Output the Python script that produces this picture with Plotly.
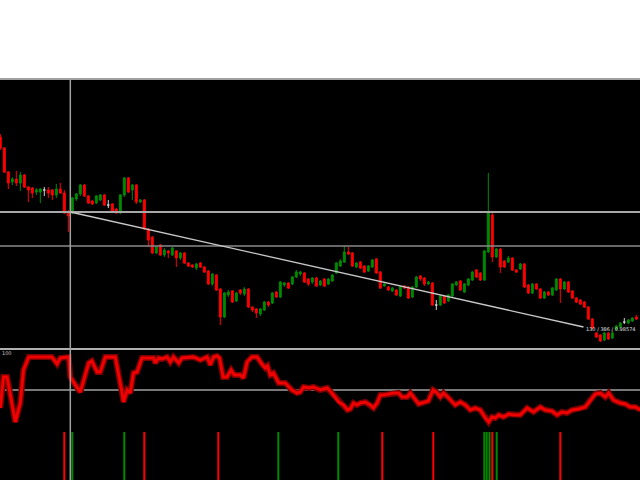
import plotly.graph_objects as go

# ---- price data (one candle per bar index) ----
opens = [1.0163, 1.0152, 1.0128, 1.0118, 1.0121, 1.0117, 1.0125, 1.0113, 1.0112, 1.0108,
         1.0108, 1.0110, 1.0110, 1.0110, 1.0105, 1.0111, 1.0107, 1.0087, 1.0087, 1.0101,
         1.0106, 1.0115, 1.0104, 1.0099, 1.0097, 1.0100, 1.0105, 1.0095, 1.0096, 1.0091,
         1.0087, 1.0105, 1.0122, 1.0110, 1.0115, 1.0098, 1.0100, 1.0071, 1.0063, 1.0047,
         1.0055, 1.0045, 1.0049, 1.0045, 1.0049, 1.0042, 1.0047, 1.0037, 1.0035, 1.0032,
         1.0037, 1.0033, 1.0029, 1.0016, 1.0025, 1.0011, 0.9983, 1.0005, 1.0009, 0.9999,
         1.0010, 1.0006, 1.0011, 0.9993, 0.9991, 0.9986, 0.9990, 0.9998, 0.9997, 1.0008,
         1.0003, 1.0015, 1.0017, 1.0016, 1.0023, 1.0026, 1.0027, 1.0021, 1.0018, 1.0022,
         1.0015, 1.0021, 1.0016, 1.0019, 1.0027, 1.0034, 1.0038, 1.0048, 1.0047, 1.0033,
         1.0038, 1.0034, 1.0029, 1.0033, 1.0041, 1.0028, 1.0014, 1.0013, 1.0009, 1.0010,
         1.0004, 1.0014, 1.0013, 1.0003, 1.0013, 1.0024, 1.0022, 1.0016, 1.0017, 0.9995,
         0.9995, 1.0004, 0.9999, 1.0004, 1.0015, 1.0019, 1.0008, 1.0015, 1.0020, 1.0030,
         1.0027, 1.0020, 1.0048, 1.0085, 1.0043, 1.0051, 1.0039, 1.0038, 1.0042, 1.0030,
         1.0031, 1.0036, 1.0015, 1.0007, 1.0016, 1.0011, 1.0002, 1.0008, 1.0005, 1.0010,
         1.0021, 1.0011, 1.0018, 1.0009, 1.0002, 1.0000, 0.9998, 0.9993, 0.9981, 0.9967,
         0.9965, 0.9960, 0.9967, 0.9962, 0.9971, 0.9973, 0.9978, 0.9977, 0.9979, 0.9983]
highs = [1.0166, 1.0153, 1.0129, 1.0123, 1.0129, 1.0128, 1.0126, 1.0114, 1.0113, 1.0112,
         1.0112, 1.0113, 1.0113, 1.0111, 1.0116, 1.0117, 1.0110, 1.0090, 1.0103, 1.0107,
         1.0116, 1.0116, 1.0105, 1.0100, 1.0105, 1.0106, 1.0106, 1.0100, 1.0097, 1.0092,
         1.0106, 1.0123, 1.0123, 1.0116, 1.0116, 1.0101, 1.0101, 1.0072, 1.0064, 1.0054,
         1.0056, 1.0052, 1.0050, 1.0053, 1.0050, 1.0048, 1.0048, 1.0038, 1.0036, 1.0037,
         1.0038, 1.0034, 1.0030, 1.0027, 1.0026, 1.0012, 1.0008, 1.0010, 1.0010, 1.0008,
         1.0011, 1.0013, 1.0012, 0.9994, 0.9992, 0.9992, 0.9999, 0.9999, 1.0008, 1.0009,
         1.0019, 1.0018, 1.0018, 1.0024, 1.0030, 1.0029, 1.0028, 1.0022, 1.0023, 1.0023,
         1.0020, 1.0022, 1.0022, 1.0026, 1.0038, 1.0041, 1.0054, 1.0053, 1.0048, 1.0038,
         1.0039, 1.0035, 1.0035, 1.0041, 1.0042, 1.0029, 1.0017, 1.0014, 1.0013, 1.0011,
         1.0014, 1.0015, 1.0014, 1.0014, 1.0024, 1.0025, 1.0023, 1.0019, 1.0018, 1.0000,
         1.0005, 1.0005, 1.0006, 1.0017, 1.0019, 1.0020, 1.0017, 1.0022, 1.0029, 1.0031,
         1.0028, 1.0050, 1.0127, 1.0087, 1.0052, 1.0052, 1.0040, 1.0044, 1.0043, 1.0031,
         1.0037, 1.0037, 1.0016, 1.0017, 1.0017, 1.0012, 1.0009, 1.0009, 1.0013, 1.0022,
         1.0022, 1.0019, 1.0019, 1.0010, 1.0003, 1.0001, 0.9999, 0.9994, 0.9982, 0.9968,
         0.9966, 0.9968, 0.9968, 0.9969, 0.9975, 0.9978, 0.9982, 0.9981, 0.9983, 0.9985]
lows = [1.0150, 1.0127, 1.0111, 1.0115, 1.0114, 1.0109, 1.0112, 1.0098, 1.0102, 1.0105,
        1.0097, 1.0104, 1.0102, 1.0100, 1.0102, 1.0106, 1.0086, 1.0068, 1.0086, 1.0099,
        1.0104, 1.0103, 1.0096, 1.0095, 1.0096, 1.0099, 1.0094, 1.0092, 1.0088, 1.0086,
        1.0086, 1.0103, 1.0107, 1.0100, 1.0096, 1.0097, 1.0070, 1.0053, 1.0046, 1.0046,
        1.0044, 1.0043, 1.0042, 1.0044, 1.0033, 1.0040, 1.0036, 1.0033, 1.0032, 1.0030,
        1.0032, 1.0027, 1.0015, 1.0014, 1.0009, 0.9975, 0.9982, 1.0003, 0.9997, 0.9998,
        1.0005, 1.0004, 0.9992, 0.9988, 0.9982, 0.9984, 0.9989, 0.9993, 0.9996, 1.0002,
        1.0002, 1.0013, 1.0011, 1.0015, 1.0022, 1.0024, 1.0017, 1.0014, 1.0016, 1.0013,
        1.0014, 1.0013, 1.0015, 1.0018, 1.0026, 1.0033, 1.0037, 1.0045, 1.0033, 1.0032,
        1.0031, 1.0027, 1.0028, 1.0032, 1.0026, 1.0011, 1.0013, 1.0009, 1.0008, 1.0004,
        1.0003, 1.0011, 1.0001, 1.0002, 1.0012, 1.0019, 1.0014, 1.0015, 0.9994, 0.9990,
        0.9994, 0.9996, 0.9998, 1.0003, 1.0014, 1.0009, 1.0007, 1.0014, 1.0019, 1.0022,
        1.0019, 1.0019, 1.0047, 1.0038, 1.0042, 1.0027, 1.0032, 1.0037, 1.0029, 1.0027,
        1.0030, 1.0012, 1.0006, 1.0006, 1.0010, 1.0001, 1.0001, 1.0004, 1.0004, 1.0009,
        0.9997, 1.0010, 1.0007, 1.0001, 0.9997, 0.9995, 0.9992, 0.9980, 0.9971, 0.9962,
        0.9958, 0.9959, 0.9960, 0.9961, 0.9969, 0.9972, 0.9976, 0.9976, 0.9978, 0.9980]
closes = [1.0152, 1.0128, 1.0117, 1.0121, 1.0117, 1.0125, 1.0113, 1.0110, 1.0107, 1.0110,
          1.0111, 1.0110, 1.0107, 1.0105, 1.0111, 1.0107, 1.0087, 1.0084, 1.0102, 1.0106,
          1.0115, 1.0104, 1.0097, 1.0096, 1.0104, 1.0105, 1.0095, 1.0095, 1.0089, 1.0087,
          1.0105, 1.0122, 1.0108, 1.0115, 1.0098, 1.0100, 1.0071, 1.0060, 1.0047, 1.0053,
          1.0045, 1.0050, 1.0047, 1.0052, 1.0042, 1.0047, 1.0037, 1.0034, 1.0033, 1.0036,
          1.0033, 1.0028, 1.0016, 1.0026, 1.0010, 0.9983, 1.0007, 1.0008, 0.9998, 1.0007,
          1.0007, 1.0011, 0.9993, 0.9990, 0.9987, 0.9991, 0.9998, 0.9995, 1.0007, 1.0003,
          1.0018, 1.0017, 1.0012, 1.0023, 1.0028, 1.0028, 1.0018, 1.0016, 1.0022, 1.0014,
          1.0019, 1.0014, 1.0021, 1.0025, 1.0037, 1.0039, 1.0048, 1.0046, 1.0034, 1.0037,
          1.0032, 1.0028, 1.0034, 1.0040, 1.0027, 1.0012, 1.0016, 1.0010, 1.0012, 1.0005,
          1.0013, 1.0012, 1.0002, 1.0013, 1.0023, 1.0021, 1.0016, 1.0018, 0.9995, 0.9995,
          1.0004, 0.9997, 1.0005, 1.0016, 1.0018, 1.0010, 1.0016, 1.0021, 1.0028, 1.0023,
          1.0020, 1.0049, 1.0087, 1.0043, 1.0051, 1.0033, 1.0033, 1.0042, 1.0030, 1.0028,
          1.0036, 1.0013, 1.0007, 1.0016, 1.0011, 1.0002, 1.0008, 1.0005, 1.0012, 1.0021,
          1.0011, 1.0018, 1.0008, 1.0002, 0.9998, 0.9996, 0.9993, 0.9981, 0.9972, 0.9963,
          0.9959, 0.9967, 0.9961, 0.9967, 0.9974, 0.9977, 0.9978, 0.9980, 0.9982, 0.9981]
bars = list(range(len(opens)))

# ---- drawing objects on the price panel ----
level_prices = [1.0088, 1.0054]
cursor_bar = 17.5
trend_start = (17.5, 1.0088)
trend_end = (145.8, 0.9973)
trend_label = "130 / 386 / 0.98574"

# ---- oscillator (lower panel) ----
osc_idx = [0, 0.8, 1.7, 3.75, 5, 5.8, 7.1, 12.9, 14.2, 15,
           17.1, 17.5, 19.6, 20, 22.1, 22.9, 24.2, 25, 26.25, 28.75,
           30.4, 30.8, 31.7, 32.5, 33.3, 34.2, 35.4, 38.3, 38.75, 39.6,
           40.4, 41.7, 42.5, 43.3, 44.6, 45.4, 48.3, 50, 51.7, 52.5,
           53.3, 54.2, 54.8, 55.7, 56.7, 57.7, 58.5, 60, 60.8, 61.7,
           62.9, 64.2, 65.4, 66.25, 66.8, 67.5, 68.3, 69.6, 71.25, 72.9,
           74.2, 75, 75.8, 77.1, 78.3, 80, 81.7, 82.9, 84.6, 85.8,
           86.8, 87.5, 88.3, 89.2, 90, 91.25, 92.5, 93.3, 94.2, 95,
           95.8, 98.3, 99.6, 100.4, 101.7, 102.5, 104.6, 106.25, 107, 108.2,
           109, 110, 110.8, 112.1, 113.75, 115, 116.25, 117.5, 118.75, 120,
           121.25, 122.1, 122.9, 123.75, 124.6, 125.8, 127.1, 128.3, 130, 131.7,
           133.3, 135, 136.25, 137.9, 139.2, 140.4, 141.7, 142.9, 144.6, 146.25,
           147.5, 148.75, 150, 151.25, 152.1, 153.3, 155, 156.25, 157.5, 158.75,
           160]
osc_val = [22, 53, 53, 8, 27, 60, 73, 73, 66, 72,
           73, 53, 40, 38, 67, 69, 58, 58, 73, 73,
           38, 28, 40, 37, 57, 58, 72, 72, 67, 72,
           71, 73, 68, 73, 67, 72, 73, 70, 73, 65,
           73, 74, 72, 53, 53, 60, 55, 55, 52, 68,
           73, 73, 66, 62, 64, 55, 57, 47, 47, 40,
           37, 38, 43, 42, 43, 40, 42, 37, 28, 25,
           20, 21, 27, 25, 27, 28, 25, 22, 27, 35,
           35, 37, 37, 33, 33, 37, 26, 28, 29, 40,
           38, 33, 37, 32, 25, 28, 25, 20, 22, 20,
           12, 8, 13, 12, 15, 13, 16, 15, 15, 22,
           18, 23, 20, 19, 15, 18, 17, 20, 21, 23,
           30, 36, 37, 33, 37, 30, 27, 26, 23, 23,
           20]
osc_level = 40

# ---- signal bars (bottom of lower panel) ----
signal_idx = [16, 18, 31, 36, 54.5, 69.5, 84.5, 95.5, 108.25, 121, 121.6, 122.3, 123, 124.1, 140]
signal_dir = ["dn", "up", "up", "dn", "dn", "up", "up", "dn", "dn", "up", "up", "up", "dn", "up", "dn"]

RED = "#ff0000"
GREEN = "#008a00"

fig = go.Figure()

def subset(cond):
    idx = [i for i in bars if cond(i)]
    return (idx, [opens[i] for i in idx], [highs[i] for i in idx],
            [lows[i] for i in idx], [closes[i] for i in idx])

for cond, col in [(lambda i: closes[i] > opens[i] + 1e-9, GREEN),
                  (lambda i: closes[i] < opens[i] - 1e-9, RED),
                  (lambda i: abs(closes[i] - opens[i]) <= 1e-9, "#d0d0d0")]:
    x, o, h, l, c = subset(cond)
    fig.add_trace(go.Candlestick(
        x=x, open=o, high=h, low=l, close=c, xaxis="x", yaxis="y",
        increasing=dict(line=dict(color=col, width=1), fillcolor=col),
        decreasing=dict(line=dict(color=col, width=1), fillcolor=col),
        showlegend=False, hoverinfo="skip"))

# oscillator with a dark halo
fig.add_trace(go.Scatter(x=osc_idx, y=osc_val, mode="lines", xaxis="x2", yaxis="y2",
                         line=dict(color="#7a0000", width=6), showlegend=False, hoverinfo="skip"))
fig.add_trace(go.Scatter(x=osc_idx, y=osc_val, mode="lines", xaxis="x2", yaxis="y2",
                         line=dict(color="#f00000", width=3), showlegend=False, hoverinfo="skip"))

# signal bars
sig_colors = [GREEN if d == "up" else RED for d in signal_dir]
fig.add_trace(go.Bar(x=signal_idx, y=[48] * len(signal_idx), base=-50, width=0.5,
                     marker=dict(color=sig_colors, line=dict(width=0)),
                     xaxis="x2", yaxis="y2", showlegend=False, hoverinfo="skip"))

main_dom = [131 / 480, 402 / 480]
low_dom = [0, 131 / 480]
xr = [-0.075, 159.925]

shapes = []
# black working area
shapes.append(dict(type="rect", xref="paper", yref="paper", x0=0, x1=1, y0=0, y1=402 / 480,
                   fillcolor="#000000", line=dict(width=0), layer="below"))
# top border
shapes.append(dict(type="line", xref="paper", yref="paper", x0=0, x1=1, y0=401 / 480, y1=401 / 480,
                   line=dict(color="#a0a0a0", width=2)))
# level lines
shapes.append(dict(type="line", xref="paper", yref="y", x0=0, x1=1, y0=level_prices[0], y1=level_prices[0],
                   line=dict(color="#a8a8a8", width=2)))
shapes.append(dict(type="line", xref="paper", yref="y", x0=0, x1=1, y0=level_prices[1], y1=level_prices[1],
                   line=dict(color="#8a8a8a", width=1.3)))
# panel separator
shapes.append(dict(type="line", xref="paper", yref="paper", x0=0, x1=1, y0=131 / 480, y1=131 / 480,
                   line=dict(color="#b0b0b0", width=2)))
# oscillator level
shapes.append(dict(type="line", xref="paper", yref="y2", x0=0, x1=1, y0=osc_level, y1=osc_level,
                   line=dict(color="#a0a0a0", width=1.5), layer="below"))
# vertical cursor line
shapes.append(dict(type="line", xref="x", yref="paper", x0=cursor_bar, x1=cursor_bar, y0=0, y1=402 / 480,
                   line=dict(color="#a0a0a0", width=1.5)))
# trend line
shapes.append(dict(type="line", xref="x", yref="y", x0=trend_start[0], y0=trend_start[1],
                   x1=trend_end[0], y1=trend_end[1], line=dict(color="#c8c8c8", width=1.3)))

annotations = [
    dict(text=trend_label, xref="x", yref="y", x=trend_end[0] + 0.2, y=trend_end[1] - 0.0002,
         xanchor="left", yanchor="middle", showarrow=False,
         font=dict(family="DejaVu Sans", size=5, color="#e0e0e0")),
    dict(text="100", xref="paper", yref="paper", x=0, y=(480 - 353) / 480,
         xanchor="left", yanchor="middle", showarrow=False,
         font=dict(family="DejaVu Sans", size=5, color="#c8c8c8")),
]

axis_off = dict(showgrid=False, zeroline=False, showticklabels=False, ticks="", showline=False)

fig.update_layout(
    width=640, height=480,
    margin=dict(l=0, r=0, t=0, b=0),
    paper_bgcolor="#ffffff", plot_bgcolor="rgba(0,0,0,0)",
    showlegend=False, barmode="overlay",
    xaxis=dict(domain=[0, 1], range=xr, anchor="y", rangeslider=dict(visible=False), **axis_off),
    yaxis=dict(domain=main_dom, range=[0.9951, 1.0222], anchor="x", **axis_off),
    xaxis2=dict(domain=[0, 1], range=xr, anchor="y2", **axis_off),
    yaxis2=dict(domain=low_dom, range=[-50, 81], anchor="x2", **axis_off),
    shapes=shapes, annotations=annotations,
)

fig.write_html("out.html", config={"displayModeBar": False},
               post_script="document.body.style.margin='0';document.body.style.overflow='hidden';")
